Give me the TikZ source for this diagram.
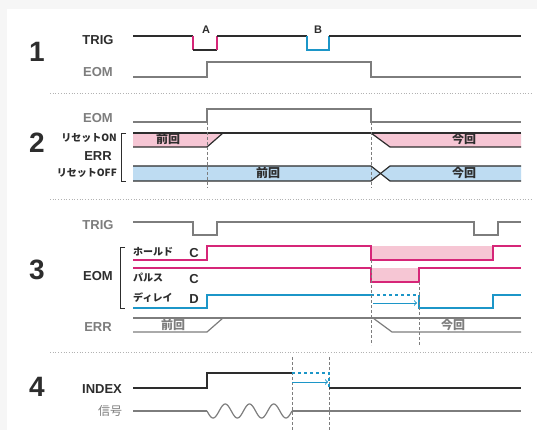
\documentclass[tikz,border=0pt]{standalone}
\usepackage{fontspec}
\setmainfont{Liberation Sans}
\newfontfamily\jp{Noto Sans CJK JP}
\definecolor{ink}{RGB}{45,45,45}
\definecolor{sgray}{RGB}{125,125,125}
\definecolor{mag}{RGB}{214,38,120}
\definecolor{pinkfill}{RGB}{246,198,212}
\definecolor{cyanline}{RGB}{28,150,200}
\definecolor{bluefill}{RGB}{190,220,242}
\tikzset{
	num/.style={font=\fontsize{28}{28}\selectfont\bfseries,text=ink},
	lbl/.style={font=\fontsize{13}{13}\selectfont\bfseries,text=ink},
	glbl/.style={lbl,text=sgray},
	jlbl/.style={font=\jp\bfseries\fontsize{10}{10}\selectfont,text=ink,inner sep=1pt},
	tag/.style={font=\jp\bfseries\fontsize{12}{12}\selectfont,text=ink},
	wire/.style={draw=ink,line width=1.2pt},
	gwire/.style={draw=sgray,line width=1.2pt},
	mwire/.style={draw=mag,line width=1.6pt},
	bwire/.style={draw=cyanline,line width=1.4pt},
	guide/.style={draw=sgray,densely dashed,line width=0.5pt},
	sep/.style={draw=gray!60,dotted,line width=0.7pt}
}
\begin{document}
\begin{tikzpicture}[x=1pt,y=-1pt]
	\useasboundingbox (0,0) rectangle (537,430);
	\fill[gray!7] (0,0) rectangle (537,430);
	\fill[white] (7,9) rectangle (537,430);

	% 1
	\node[num] (n1) at (37,52) {1};
	\node[lbl] (trig1) at (98,40) {TRIG};
	\node[glbl] (eom1) at (98,72) {EOM};
	\draw[wire] (133,36) -- (193,36);
	\draw[mwire] (193,36) -- (193,50);
	\draw[wire] (193,50) -- (217,50);
	\draw[mwire] (217,50) -- (217,36);
	\draw[wire] (217,36) -- (307,36);
	\draw[bwire] (307,36) -- (307,50) -- (329,50) -- (329,36);
	\draw[wire] (329,36) -- (521,36);
	\node[lbl,font=\fontsize{11}{11}\selectfont\bfseries] (pa) at (206,30) {A};
	\node[lbl,font=\fontsize{11}{11}\selectfont\bfseries] (pb) at (318,30) {B};
	\draw[gwire] (133,77) -- (207,77) -- (207,62) -- (371,62) -- (371,77) -- (521,77);
	\draw[sep] (50,93) -- (532,93);

	% 2
	\node[num] (n2) at (37,143) {2};
	\node[glbl] (eom2) at (98,118) {EOM};
	\node[jlbl,anchor=east] (ron) at (118,138) {リセットON};
	\node[lbl] (err2) at (98,156) {ERR};
	\node[jlbl,anchor=east] (roff) at (118,173) {リセットOFF};
	\draw[ink,line width=0.9pt] (126,133) -- (121,133) -- (121,181) -- (126,181);
	\draw[gwire] (133,122) -- (207,122) -- (207,109) -- (371,109) -- (371,122) -- (521,122);
	\fill[pinkfill] (133,133) -- (223,133) -- (207,147) -- (133,147) -- cycle;
	\fill[pinkfill] (371,133) -- (521,133) -- (521,147) -- (390,147) -- cycle;
	\draw[wire] (133,133) -- (521,133);
	\draw[wire] (133,147) -- (207,147) -- (223,133);
	\draw[wire] (371,133) -- (390,147) -- (521,147);
	\node[tag] (prev2a) at (168,139) {前回};
	\node[tag] (now2a) at (464,139) {今回};
	\fill[bluefill] (133,166) -- (371,166) -- (380.5,173.5) -- (371,181) -- (133,181) -- cycle;
	\fill[bluefill] (390,166) -- (521,166) -- (521,181) -- (390,181) -- (380.5,173.5) -- cycle;
	\draw[wire] (133,166) -- (371,166) -- (390,181) -- (521,181);
	\draw[wire] (133,181) -- (371,181) -- (390,166) -- (521,166);
	\node[tag] (prev2b) at (268,173) {前回};
	\node[tag] (now2b) at (464,173) {今回};
	\draw[guide] (207,122) -- (207,188);
	\draw[guide] (371,122) -- (371,188);
	\draw[sep] (50,199) -- (532,199);

	% 3
	\node[num] (n3) at (37,270) {3};
	\node[glbl] (trig3) at (98,225) {TRIG};
	\node[lbl] (eom3) at (98,276) {EOM};
	\node[glbl] (err3) at (98,327) {ERR};
	\draw[ink,line width=0.9pt] (125,247) -- (120,247) -- (120,308) -- (125,308);
	\node[jlbl,anchor=west] (hold) at (132,252) {ホールド};
	\node[lbl] (c1) at (194,253) {C};
	\node[jlbl,anchor=west] (pulse) at (132,278) {パルス};
	\node[lbl] (c2) at (194,279) {C};
	\node[jlbl,anchor=west] (delay) at (132,298) {ディレイ};
	\node[lbl] (d1) at (194,299) {D};
	\draw[gwire] (133,222) -- (193,222) -- (193,235) -- (217,235) -- (217,222) -- (474,222) -- (474,235) -- (498,235) -- (498,222) -- (521,222);
	\fill[pinkfill] (371,246) rectangle (493,260);
	\draw[mwire] (133,260) -- (207,260) -- (207,246) -- (371,246) -- (371,260) -- (493,260) -- (493,246) -- (521,246);
	\fill[pinkfill] (371,268) rectangle (419,282);
	\draw[mwire] (133,268) -- (371,268) -- (371,282) -- (419,282) -- (419,268) -- (521,268);
	\draw[bwire] (133,308) -- (207,308) -- (207,295) -- (371,295);
	\draw[bwire,dashed,line width=1.1pt] (371,295) -- (419,295);
	\draw[bwire] (419,295) -- (419,308) -- (493,308) -- (493,295) -- (521,295);
	\coordinate (dl0) at (373,303);
	\coordinate (dl1) at (417,303);
	\draw[cyanline,line width=1pt,->] (dl0) -- (dl1);
	\draw[guide] (371,260) -- (371,345);
	\draw[guide] (419,282) -- (419,345);
	\draw[gwire] (133,318) -- (521,318);
	\draw[gwire] (133,332) -- (207,332) -- (223,318);
	\draw[gwire] (373,318) -- (392,332) -- (521,332);
	\node[tag,text=sgray] (prev3) at (173,325) {前回};
	\node[tag,text=sgray] (now3) at (453,325) {今回};
	\draw[sep] (50,352) -- (532,352);

	% 4
	\node[num] (n4) at (37,387) {4};
	\node[lbl] (idx) at (102,389) {INDEX};
	\node[font=\jp\fontsize{12}{12}\selectfont,text=sgray] (sig) at (110,411) {信号};
	\draw[guide] (292,357) -- (292,430);
	\draw[guide] (329,357) -- (329,430);
	\draw[wire] (133,388) -- (207,388) -- (207,373) -- (292,373);
	\draw[bwire,dashed,line width=1.1pt] (292,373) -- (329,373) -- (329,388);
	\draw[ink,line width=1.8pt] (329,388) -- (521,388);
	\coordinate (ix0) at (292,382);
	\coordinate (ix1) at (328,382);
	\draw[cyanline,line width=1pt,->] (ix0) -- (ix1);
	\draw[gwire] (133,411) -- (207,411);
	\draw[gwire] plot[domain=0:85,samples=120] ({207+\x},{411+7*sin(\x*14.8235)});
	\draw[gwire] (292,411) -- (521,411);
\end{tikzpicture}
\end{document}
